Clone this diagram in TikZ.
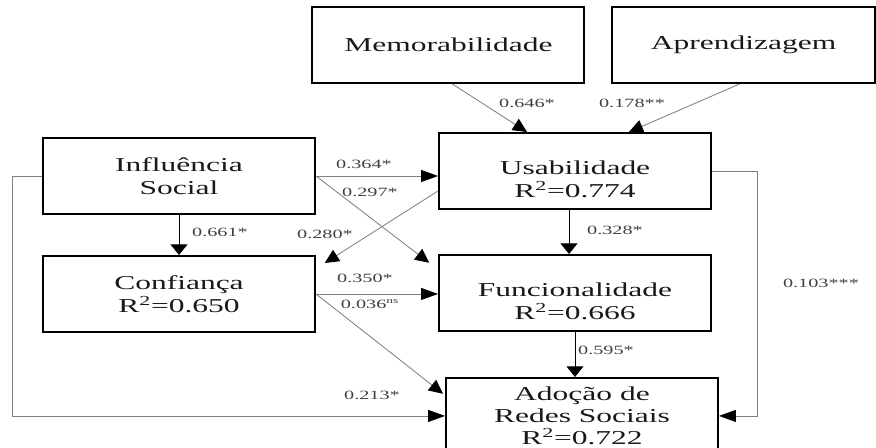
\documentclass[tikz,border=0pt]{standalone}
\usepackage{fontspec}
\setmainfont{Liberation Serif}[FakeStretch=1.6]
\usepackage{tikz}
\usetikzlibrary{arrows.meta,calc,positioning}

\begin{document}
\begin{tikzpicture}[
  node distance=1.0cm,
  construct/.style={rectangle, draw=black, line width=1.4pt, minimum width=6.8cm, minimum height=1.9cm, inner sep=0pt, align=center, font=\fontsize{14}{16.5}\selectfont, text=black!90},
  lowtext/.style={text height=38pt},
  coef/.style={font=\fontsize{9}{10}\selectfont, text=black!75, inner sep=1pt},
  varrow/.style={-{Triangle[length=7.5pt,width=12pt]}, line width=0.6pt, black},
  harrow/.style={-{Triangle[length=12pt,width=8.5pt,color=black]}, line width=0.6pt, black!50},
  darrow/.style={-{Triangle[length=10pt,width=9.5pt,color=black]}, line width=0.6pt, black!50}
]
\useasboundingbox (0,0) rectangle (21.9,-11.2);

% Antecedents of usability (top row)
\node[construct] (memo) at (11.21,-1.125) {Memorabilidade};
\node[construct, minimum width=6.575cm] (aprend) at (18.59,-1.125) {Aprendizagem};

% Left column
\node[construct] (infl) at (4.475,-4.40) {Influência\\Social};
\node[construct, below=of infl] (conf) {Confiança\\R\textsuperscript{2}=0.650};

% Right column
\node[construct, lowtext] (usab) at (14.375,-4.275) {Usabilidade\\R\textsuperscript{2}=0.774};
\node[construct, lowtext, below=1.1cm of usab] (func) {Funcionalidade\\R\textsuperscript{2}=0.666};
\node[construct, font=\fontsize{14}{15.5}\selectfont, below=1.125cm of func, xshift=0.175cm] (adoc) {Adoção de\\Redes Sociais\\R\textsuperscript{2}=0.722};

% Paths into usability
\draw[darrow] ([xshift=0.1cm]memo.south) -- ([xshift=-1.2cm]usab.north);
\draw[darrow] ([xshift=-0.1cm]aprend.south) -- ([xshift=1.35cm]usab.north);
\draw[harrow] (infl.east) -- (infl.east -| usab.west);

% Crossing paths
\draw[darrow] (infl.east) -- ([shift={(-0.22,-0.22)}]func.north west);
\draw[darrow] ([yshift=-0.5cm]usab.west) -- ([shift={(0.22,-0.2)}]conf.north east);

% Vertical paths
\draw[varrow] (infl.south) -- (conf.north);
\draw[varrow] ([xshift=-0.15cm]usab.south) -- ([xshift=-0.15cm]usab.south |- func.north);
\draw[varrow] (func.south) -- (func.south |- adoc.north);

% Paths into adoption
\draw[harrow] (conf.east) -- (conf.east -| func.west);
\draw[darrow] (conf.east) -- ([shift={(-0.05,-0.42)}]adoc.north west);
\draw[harrow] (infl.west) -- ++(-0.75,0) |- (adoc.west);
\draw[harrow] (usab.east) -- ++(1.125,0) |- (adoc.east);

% Path coefficients
\node[coef] (c646) at (13.175,-2.575) {0.646*};
\node[coef] (c178) at (15.80,-2.575) {0.178**};
\node[coef] (c364) at (9.10,-4.10) {0.364*};
\node[coef] (c297) at (9.25,-4.80) {0.297*};
\node[coef] (c280) at (8.125,-5.85) {0.280*};
\node[coef] (c661) at (5.50,-5.80) {0.661*};
\node[coef] (c328) at (15.375,-5.75) {0.328*};
\node[coef] (c350) at (9.125,-6.95) {0.350*};
\node[coef] (c036) at (9.25,-7.60) {0.036\textsuperscript{ns}};
\node[coef] (c595) at (15.15,-8.75) {0.595*};
\node[coef] (c213) at (9.30,-9.875) {0.213*};
\node[coef] (c103) at (20.525,-7.075) {0.103***};

\end{tikzpicture}
\end{document}
